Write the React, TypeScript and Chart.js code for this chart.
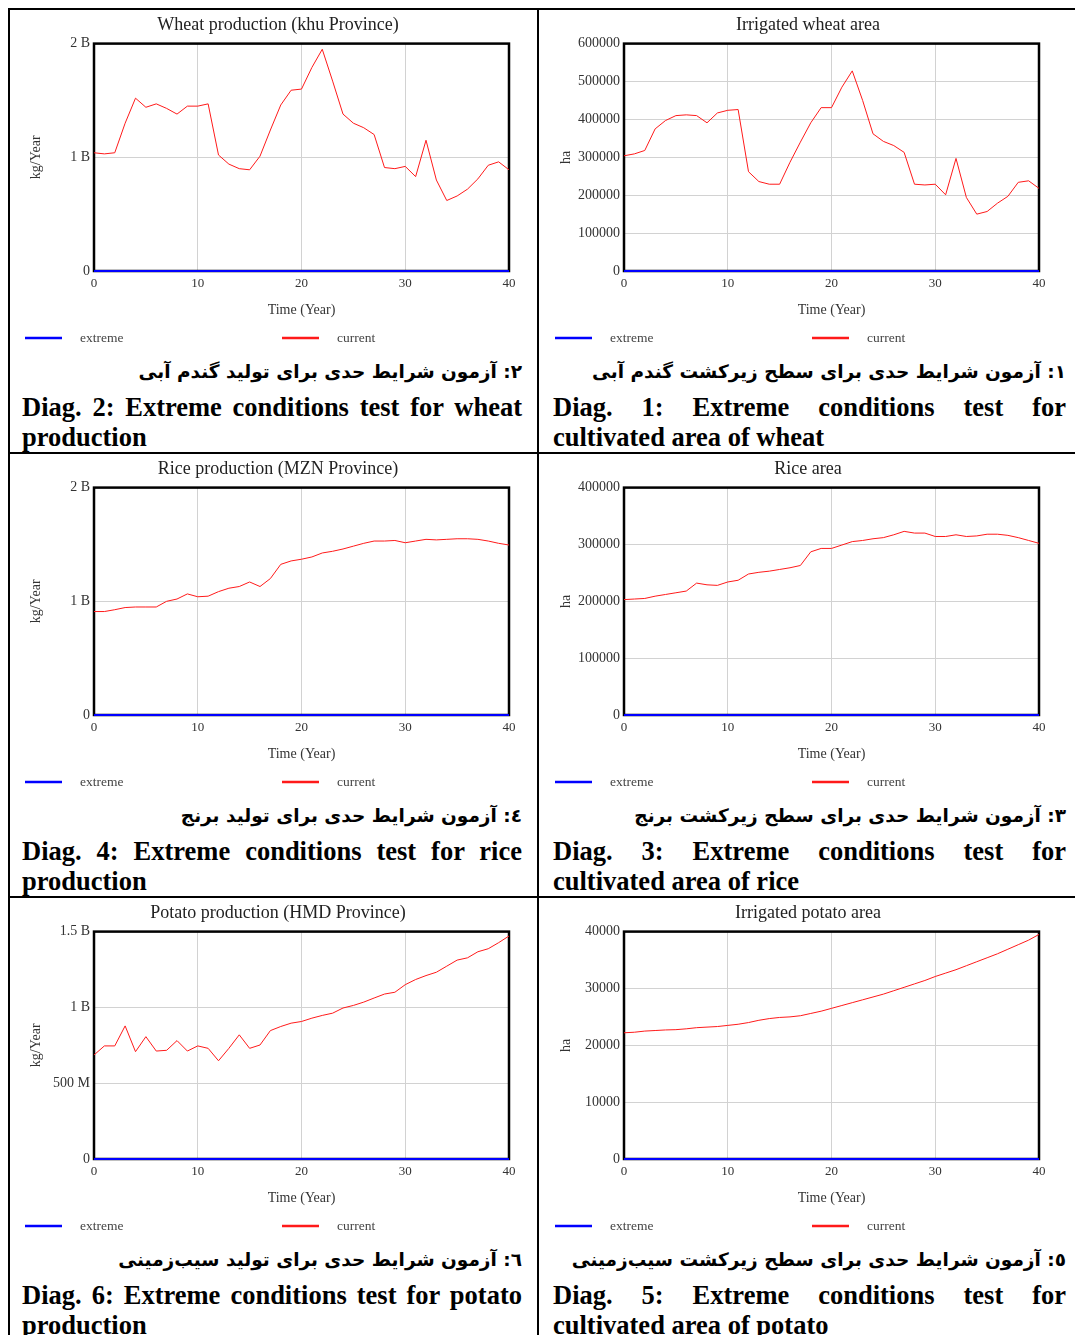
import React, { useEffect, useRef } from "react";
import { Chart, registerables } from "chart.js";

Chart.register(...registerables);

const SERIF = '"Liberation Serif", "Times New Roman", serif';
const PERSIAN_FONT = '"DejaVu Sans", "Noto Sans", sans-serif';

// Time axis (years)
const YEARS = [0, 1, 2, 3, 4, 5, 6, 7, 8, 9, 10, 11, 12, 13, 14, 15, 16, 17, 18, 19, 20, 21, 22, 23, 24, 25, 26, 27, 28, 29, 30, 31, 32, 33, 34, 35, 36, 37, 38, 39, 40];
const X_TICKS = [0, 10, 20, 30, 40];

// "extreme" scenario (zero everywhere)
const EXTREME = [0, 0, 0, 0, 0, 0, 0, 0, 0, 0, 0, 0, 0, 0, 0, 0, 0, 0, 0, 0, 0, 0, 0, 0, 0, 0, 0, 0, 0, 0, 0, 0, 0, 0, 0, 0, 0, 0, 0, 0, 0];

// "current" scenario series
// Wheat production (billion kg/Year)
const WHEAT_PRODUCTION = [1.04, 1.03, 1.04, 1.3, 1.52, 1.44, 1.47, 1.43, 1.38, 1.45, 1.45, 1.47, 1.02, 0.94, 0.9, 0.89, 1.01, 1.24, 1.46, 1.59, 1.6, 1.79, 1.95, 1.67, 1.38, 1.3, 1.26, 1.2, 0.91, 0.9, 0.92, 0.83, 1.15, 0.8, 0.62, 0.66, 0.72, 0.81, 0.93, 0.96, 0.89];
// Irrigated wheat area (ha)
const WHEAT_AREA = [304000, 309000, 318000, 375000, 397000, 410000, 412000, 410000, 391000, 417000, 424000, 426000, 262000, 236000, 229000, 229000, 287000, 340000, 391000, 431000, 431000, 485000, 528000, 450000, 362000, 342000, 331000, 313000, 229000, 227000, 229000, 201000, 297000, 194000, 150000, 157000, 179000, 197000, 234000, 238000, 218000];
// Rice production (billion kg/Year)
const RICE_PRODUCTION = [0.91, 0.91, 0.926, 0.945, 0.95, 0.95, 0.95, 1.0, 1.02, 1.065, 1.04, 1.045, 1.085, 1.115, 1.13, 1.17, 1.13, 1.2, 1.325, 1.355, 1.37, 1.39, 1.425, 1.44, 1.46, 1.485, 1.51, 1.53, 1.53, 1.535, 1.515, 1.53, 1.545, 1.54, 1.545, 1.55, 1.55, 1.545, 1.53, 1.51, 1.495];
// Rice area (ha)
const RICE_AREA = [203000, 204000, 205000, 209000, 212000, 215000, 218000, 232000, 229000, 228000, 234000, 237000, 248000, 251000, 253000, 256000, 259000, 263000, 287000, 293000, 293000, 299000, 305000, 307000, 310000, 312000, 317000, 323000, 320000, 320000, 314000, 314000, 317000, 314000, 315000, 318000, 318000, 316000, 312000, 307000, 302000];
// Potato production (billion kg/Year)
const POTATO_PRODUCTION = [0.686, 0.746, 0.746, 0.878, 0.708, 0.807, 0.712, 0.717, 0.781, 0.712, 0.746, 0.73, 0.648, 0.73, 0.819, 0.73, 0.752, 0.847, 0.874, 0.896, 0.907, 0.929, 0.947, 0.962, 0.996, 1.013, 1.035, 1.062, 1.088, 1.1, 1.15, 1.184, 1.21, 1.232, 1.272, 1.312, 1.327, 1.367, 1.387, 1.427, 1.471];
// Irrigated potato area (ha)
const POTATO_AREA = [22200, 22300, 22500, 22600, 22700, 22750, 22900, 23100, 23200, 23300, 23500, 23700, 24000, 24400, 24700, 24900, 25000, 25200, 25600, 26000, 26500, 27000, 27500, 28000, 28500, 29000, 29600, 30200, 30800, 31400, 32100, 32700, 33300, 34000, 34700, 35400, 36100, 36900, 37700, 38500, 39500];

// Y tick values and labels
const PROD2B_TICKS = [0, 1, 2];
const PROD2B_LABELS = ["0", "1 B", "2 B"];
const PROD15B_TICKS = [0, 0.5, 1, 1.5];
const PROD15B_LABELS = ["0", "500 M", "1 B", "1.5 B"];
const WHEAT_AREA_TICKS = [0, 100000, 200000, 300000, 400000, 500000, 600000];
const WHEAT_AREA_LABELS = ["0", "100000", "200000", "300000", "400000", "500000", "600000"];
const RICE_AREA_TICKS = [0, 100000, 200000, 300000, 400000];
const RICE_AREA_LABELS = ["0", "100000", "200000", "300000", "400000"];
const POTATO_AREA_TICKS = [0, 10000, 20000, 30000, 40000];
const POTATO_AREA_LABELS = ["0", "10000", "20000", "30000", "40000"];

const LEGEND_LABELS = ["extreme", "current"];
const SERIES_COLORS = ["#0000ff", "#ff1a1a"];

type Spec = {
  title: string;
  yTitle: string;
  yMax: number;
  yTicks: number[];
  yLabels: string[];
  current: number[];
};

const SPECS: Spec[] = [
  { title: "Wheat production (khu Province)", yTitle: "kg/Year", yMax: 2, yTicks: PROD2B_TICKS, yLabels: PROD2B_LABELS, current: WHEAT_PRODUCTION },
  { title: "Irrigated wheat area", yTitle: "ha", yMax: 600000, yTicks: WHEAT_AREA_TICKS, yLabels: WHEAT_AREA_LABELS, current: WHEAT_AREA },
  { title: "Rice production (MZN Province)", yTitle: "kg/Year", yMax: 2, yTicks: PROD2B_TICKS, yLabels: PROD2B_LABELS, current: RICE_PRODUCTION },
  { title: "Rice area", yTitle: "ha", yMax: 400000, yTicks: RICE_AREA_TICKS, yLabels: RICE_AREA_LABELS, current: RICE_AREA },
  { title: "Potato production (HMD Province)", yTitle: "kg/Year", yMax: 1.5, yTicks: PROD15B_TICKS, yLabels: PROD15B_LABELS, current: POTATO_PRODUCTION },
  { title: "Irrigated potato area", yTitle: "ha", yMax: 40000, yTicks: POTATO_AREA_TICKS, yLabels: POTATO_AREA_LABELS, current: POTATO_AREA },
];

const CAPTIONS_FA = [
  "٢: آزمون شرایط حدی برای تولید گندم آبی",
  "١: آزمون شرایط حدی برای سطح زیرکشت گندم آبی",
  "٤: آزمون شرایط حدی برای تولید برنج",
  "٣: آزمون شرایط حدی برای سطح زیرکشت برنج",
  "٦: آزمون شرایط حدی برای تولید سیب‌زمینی",
  "٥: آزمون شرایط حدی برای سطح زیرکشت سیب‌زمینی",
];
const CAPTIONS_EN = [
  "Diag. 2: Extreme conditions test for wheat production",
  "Diag. 1: Extreme conditions test for cultivated area of wheat",
  "Diag. 4: Extreme conditions test for rice production",
  "Diag. 3: Extreme conditions test for cultivated area of rice",
  "Diag. 6: Extreme conditions test for potato production",
  "Diag. 5: Extreme conditions test for cultivated area of potato",
];

const framePlugin = {
  id: "frameBox",
  beforeDatasetsDraw(chart: any) {
    const { ctx, chartArea: a } = chart;
    ctx.save();
    ctx.strokeStyle = "#000";
    ctx.lineWidth = 2.5;
    ctx.strokeRect(a.left, a.top, a.right - a.left, a.bottom - a.top);
    ctx.restore();
  },
};

const legendPlugin = {
  id: "lineLegend",
  afterDraw(chart: any) {
    const { ctx } = chart;
    const y = chart.height - 17;
    const starts = [13, 270];
    chart.data.datasets.forEach((ds: any, i: number) => {
      const x = starts[i];
      ctx.save();
      ctx.strokeStyle = ds.borderColor;
      ctx.lineWidth = 2.5;
      ctx.beginPath();
      ctx.moveTo(x, y);
      ctx.lineTo(x + 37, y);
      ctx.stroke();
      ctx.fillStyle = "#444";
      ctx.font = `13.5px ${SERIF}`;
      ctx.textBaseline = "middle";
      ctx.textAlign = "left";
      ctx.fillText(ds.label, x + 55, y);
      ctx.restore();
    });
  },
};

function LineChart({ spec, left, top }: { spec: Spec; left: number; top: number }) {
  const ref = useRef<HTMLCanvasElement>(null);
  useEffect(() => {
    const chart = new Chart(ref.current as HTMLCanvasElement, {
      type: "line",
      data: {
        labels: YEARS,
        datasets: [
          { label: LEGEND_LABELS[0], data: EXTREME, borderColor: SERIES_COLORS[0], borderWidth: 2.2, pointRadius: 0, clip: 4, tension: 0 },
          { label: LEGEND_LABELS[1], data: spec.current, borderColor: SERIES_COLORS[1], borderWidth: 1, pointRadius: 0, clip: 4, tension: 0 },
        ],
      } as any,
      options: {
        responsive: false,
        animation: false,
        events: [],
        layout: { padding: { left: 35, right: 23, top: 0, bottom: 31 } },
        plugins: {
          legend: { display: false },
          tooltip: { enabled: false },
          title: {
            display: true,
            text: spec.title,
            color: "#222",
            font: { family: SERIF, size: 18, weight: "normal" },
            padding: { top: 4, bottom: 8 },
          },
        },
        scales: {
          x: {
            type: "linear",
            min: 0,
            max: 40,
            afterBuildTicks: (s: any) => {
              s.ticks = X_TICKS.map((v) => ({ value: v }));
            },
            afterFit: (s: any) => {
              s.height = 53;
            },
            ticks: { color: "#333", font: { family: SERIF, size: 13 }, padding: 5, maxRotation: 0 },
            grid: { color: "#d2d2d2", lineWidth: 1, drawTicks: false },
            border: { display: false },
            title: { display: true, text: "Time (Year)", color: "#333", font: { family: SERIF, size: 14 }, padding: { top: 0, bottom: 5 } },
          },
          y: {
            type: "linear",
            min: 0,
            max: spec.yMax,
            afterBuildTicks: (s: any) => {
              s.ticks = spec.yTicks.map((v) => ({ value: v }));
            },
            afterFit: (s: any) => {
              s.width = 47;
            },
            ticks: {
              color: "#333",
              font: { family: SERIF, size: 14 },
              padding: 4,
              callback: (_v: any, i: number) => spec.yLabels[i],
            },
            grid: { color: "#d2d2d2", lineWidth: 1, drawTicks: false },
            border: { display: false },
            title: { display: true, text: spec.yTitle, color: "#333", font: { family: SERIF, size: 14 }, padding: { top: -19, bottom: 0 } },
          },
        },
      } as any,
      plugins: [framePlugin, legendPlugin],
    });
    return () => chart.destroy();
  }, [spec]);
  return (
    <canvas
      ref={ref}
      width={520}
      height={345}
      style={{ position: "absolute", left, top, width: 520, height: 345 }}
    />
  );
}

const ROW_TOPS = [10, 454, 898];
const H_LINES = [8, 452, 896];
const V_LINES = [8, 537, 1080];
const COL_CANVAS_X = [12, 542];
const COL_TEXT_X = [22, 553];
const COL_TEXT_W = [500, 513];

export default function App() {
  return (
    <div
      style={{
        position: "absolute",
        left: 0,
        top: 0,
        width: 1075,
        height: 1335,
        overflow: "hidden",
        background: "#fff",
      }}
    >
      {H_LINES.map((y) => (
        <div key={"h" + y} style={{ position: "absolute", left: 8, top: y, width: 1074, height: 2, background: "#000" }} />
      ))}
      {V_LINES.map((x) => (
        <div key={"v" + x} style={{ position: "absolute", left: x, top: 8, width: 2, height: 1340, background: "#000" }} />
      ))}
      {SPECS.map((spec, i) => {
        const row = Math.floor(i / 2);
        const col = i % 2;
        const top = ROW_TOPS[row];
        return (
          <React.Fragment key={i}>
            <LineChart spec={spec} left={COL_CANVAS_X[col]} top={top} />
            <div
              dir="rtl"
              style={{
                position: "absolute",
                left: COL_TEXT_X[col],
                width: COL_TEXT_W[col],
                top: top + 348,
                height: 28,
                lineHeight: "28px",
                fontFamily: PERSIAN_FONT,
                fontWeight: "bold",
                fontSize: 18.5,
                textAlign: "right",
                color: "#000",
                whiteSpace: "nowrap",
              }}
            >
              {CAPTIONS_FA[i]}
            </div>
            <div
              style={{
                position: "absolute",
                left: COL_TEXT_X[col],
                width: COL_TEXT_W[col],
                top: top + 382,
                lineHeight: "30px",
                fontFamily: SERIF,
                fontWeight: "bold",
                fontSize: 26.5,
                textAlign: "justify",
                color: "#000",
              }}
            >
              {CAPTIONS_EN[i]}
            </div>
          </React.Fragment>
        );
      })}
    </div>
  );
}
